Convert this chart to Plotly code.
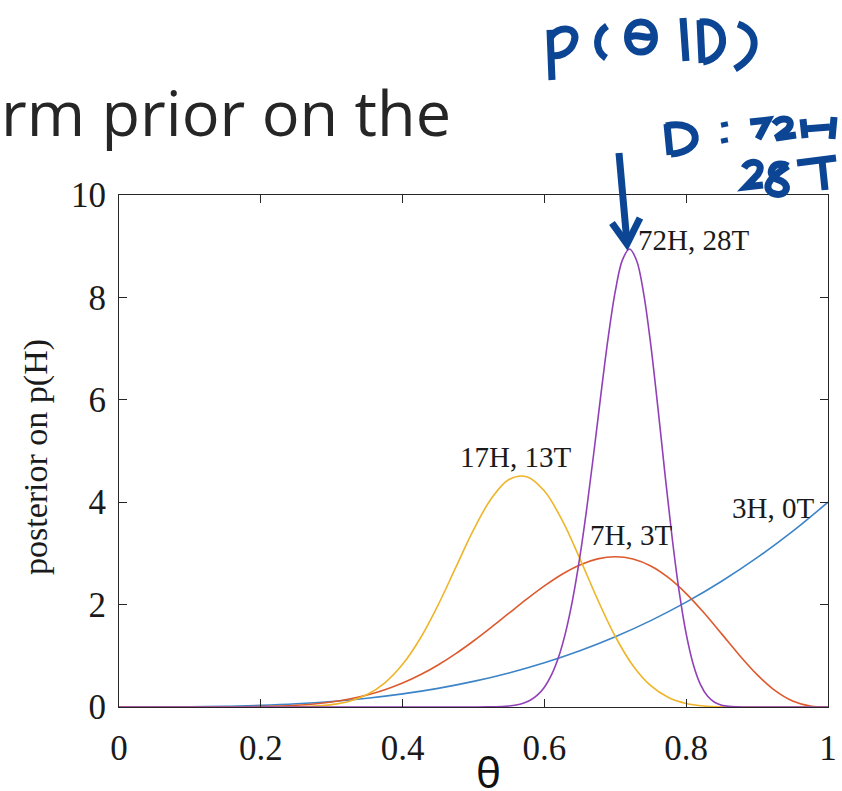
import plotly.graph_objects as go

# ---------------- data ----------------
theta_blue = [0.0, 0.05, 0.1, 0.15, 0.2, 0.25, 0.3, 0.35, 0.4, 0.45, 0.5,
              0.55, 0.6, 0.65, 0.7, 0.75, 0.8, 0.85, 0.9, 0.95, 1.0]
post_3h0t = [0.0, 0.0005, 0.004, 0.0135, 0.032, 0.0625, 0.108, 0.1715, 0.256, 0.3645, 0.5,
             0.6655, 0.864, 1.0985, 1.372, 1.6875, 2.048, 2.4565, 2.916, 3.4295, 4.0]

theta_orange = [0.0, 0.05, 0.1, 0.125, 0.15, 0.175, 0.2, 0.225, 0.25, 0.275, 0.3, 0.325,
                0.35, 0.375, 0.4, 0.425, 0.45, 0.475, 0.5, 0.525, 0.55, 0.575, 0.6, 0.625,
                0.65, 0.675, 0.7, 0.725, 0.75, 0.775, 0.8, 0.825, 0.85, 0.875, 0.9,
                0.925, 0.95, 0.975, 1.0]
post_7h3t = [0.0, 0.0, 0.0001, 0.0004, 0.0014, 0.0037, 0.0087, 0.0179, 0.034, 0.0598, 0.099, 0.1555,
             0.2332, 0.3361, 0.4671, 0.6285, 0.8206, 1.0421, 1.2891, 1.5551, 1.8312, 2.1058, 2.3649, 2.5932,
             2.7744, 2.893, 2.9351, 2.8903, 2.7531, 2.5249, 2.2146, 1.8403, 1.4282, 1.0124, 0.6314,
             0.3227, 0.1152, 0.0173, 0.0]

theta_yellow = [0.0, 0.1, 0.15, 0.2, 0.225, 0.25, 0.275, 0.3, 0.325, 0.35, 0.375, 0.4,
                0.425, 0.45, 0.475, 0.5, 0.525, 0.55, 0.575, 0.6, 0.625, 0.65, 0.675,
                0.7, 0.725, 0.75, 0.775, 0.8, 0.825, 0.85, 0.875, 0.9, 0.95, 1.0]
post_17h13t = [0.0, 0.0, 0.0, 0.0003, 0.0013, 0.0051, 0.0167, 0.0465, 0.1129, 0.2436, 0.4728, 0.833,
               1.3426, 1.9906, 2.7261, 3.4576, 4.0682, 4.4423, 4.4987, 4.2173, 3.6478, 2.8979, 2.1006,
               1.3769, 0.8067, 0.4159, 0.1846, 0.0685, 0.0204, 0.0046, 0.0007, 0.0001, 0.0, 0.0]

theta_purple = [0.0, 0.1, 0.2, 0.3, 0.4, 0.5, 0.52, 0.54, 0.55, 0.56, 0.57, 0.58, 0.59, 0.60,
                0.61, 0.62, 0.63, 0.64, 0.65, 0.66, 0.67, 0.68, 0.69, 0.70, 0.71, 0.72, 0.73,
                0.74, 0.75, 0.76, 0.77, 0.78, 0.79, 0.80, 0.81, 0.82, 0.83, 0.84, 0.85, 0.86,
                0.87, 0.88, 0.90, 0.95, 1.0]
post_72h28t = [0.0, 0.0, 0.0, 0.0, 0.0, 0.0004, 0.0021, 0.0098, 0.0199, 0.0389, 0.073, 0.1321, 0.2304, 0.387,
               0.6263, 0.9757, 1.4635, 2.1117, 2.9299, 3.9064, 4.9997, 6.1383, 7.2184, 8.1216, 8.7287, 8.9444, 8.722,
               8.0747, 7.0783, 5.8571, 4.5593, 3.3254, 2.262, 1.4272, 0.8303, 0.442, 0.2135, 0.0926, 0.0356, 0.012,
               0.0035, 0.0008, 0.0, 0.0, 0.0]

series_names = ["3H, 0T", "7H, 3T", "17H, 13T", "72H, 28T"]
series_colors = ["#3c84c8", "#dd5a2e", "#efb52a", "#9140b8"]
# label positions (theta, value) of the in-plot labels
label_x = [0.923, 0.722, 0.559, 0.810]
label_y = [3.89, 3.36, 4.88, 9.12]

x_ticks = [0, 0.2, 0.4, 0.6, 0.8, 1]
x_ticklabels = ["0", "0.2", "0.4", "0.6", "0.8", "1"]
y_ticks = [0, 2, 4, 6, 8, 10]
y_ticklabels = ["0", "2", "4", "6", "8", "10"]

# ---------------- figure ----------------
W, H = 842, 791
L, R, T, B = 119, 14, 195, 84
PW, PH = W - L - R, H - T - B


def px(x, y):
    return (x - L) / PW, (T + PH - y) / PH


def path_px(s):
    toks = s.split()
    out, nums = [], []
    for t in toks:
        if t.isalpha():
            out.append(t)
        else:
            nums.append(float(t))
            if len(nums) == 2:
                a, b = px(*nums)
                out.append(f"{a:.4f},{b:.4f}")
                nums = []
    return " ".join(out)


fig = go.Figure()
thetas = [theta_blue, theta_orange, theta_yellow, theta_purple]
posts = [post_3h0t, post_7h3t, post_17h13t, post_72h28t]
for th, p, nm, c in zip(thetas, posts, series_names, series_colors):
    fig.add_trace(go.Scatter(x=th, y=p, mode="lines", name=nm,
                             line=dict(color=c, width=1.6, shape="spline", smoothing=1.0),
                             showlegend=False, hoverinfo="skip"))

serif = "Liberation Serif, Times New Roman, serif"
for nm, lx, ly in zip(series_names, label_x, label_y):
    fig.add_annotation(x=lx, y=ly, xref="x", yref="y", text=nm, showarrow=False,
                       font=dict(family=serif, size=29, color="#1a1a1a"),
                       xanchor="center", yanchor="middle")

axis_common = dict(showline=True, linecolor="#262626", linewidth=1, mirror="ticks",
                   ticks="inside", ticklen=8, tickwidth=1, tickcolor="#262626",
                   showgrid=False, zeroline=False, automargin=False,
                   tickfont=dict(family=serif, size=35, color="#1a1a1a"))
fig.update_xaxes(range=[0, 1], tickvals=x_ticks, ticktext=x_ticklabels,
                 ticklabelstandoff=10, **axis_common)
fig.update_yaxes(range=[0, 10], tickvals=y_ticks, ticktext=y_ticklabels,
                 ticklabelstandoff=5, **axis_common)

# y-axis title
tx, ty = px(36, 457)
fig.add_annotation(x=tx, y=ty, xref="paper", yref="paper", text="posterior on p(H)",
                   textangle=-90, showarrow=False,
                   font=dict(family=serif, size=34, color="#1a1a1a"),
                   xanchor="center", yanchor="middle")

# slide text fragments
sx, sy = px(-1, 111)
fig.add_annotation(x=sx, y=sy, xref="paper", yref="paper", text="rm prior on the",
                   showarrow=False, font=dict(family="Open Sans, sans-serif", size=63, color="#262626"),
                   xanchor="left", yanchor="middle")
qx, qy = px(488, 771)
fig.add_annotation(x=qx, y=qy, xref="paper", yref="paper", text="θ",
                   showarrow=False, font=dict(family="Noto Sans, sans-serif", size=42, color="#111111"),
                   xanchor="center", yanchor="middle")

# handwritten ink strokes
ink = "#0b4593"
strokes = [
    "M 550 30 L 552 80",                                   # p stem
    "M 550 38 C 558 24 580 27 574 42 C 570 54 558 57 551 55",  # p bowl
    "M 607 26 C 595 34 594 50 606 58",                     # (
    "M 641 22 C 659 22 659 52 641 52 C 623 52 623 22 641 22",  # theta
    "M 630 37 C 638 33 646 40 653 36",                      # theta bar
    "M 683 18 L 686 61",                                    # |
    "M 700 20 L 702 63",                                    # D stem
    "M 700 22 C 727 18 732 56 703 62",                      # D bowl
    "M 738 24 C 760 32 760 54 735 69",                      # )
    "M 667 124 L 670 155",                                  # D stem
    "M 666 126 C 702 118 706 152 671 154",                  # D bowl
    "M 724 122 L 725 127",                                  # colon
    "M 724 138 L 725 143",
    "M 750 122 L 768 120 L 758 139",                        # 7
    "M 774 124 C 781 115 796 119 788 129 L 776 138 L 796 135",  # 2
    "M 803 119 L 805 138",                                  # H
    "M 804 129 L 830 127",
    "M 834 117 L 832 139",
    "M 744 168 C 750 158 766 162 758 174 L 746 187 L 763 185",  # 2
    "M 788 166 C 773 158 764 176 779 180 C 793 185 785 199 772 193 C 761 186 774 175 788 166",  # 8
    "M 797 163 L 836 158",                                  # T
    "M 822 160 L 825 190",
    "M 619 153 L 627 243",                                  # arrow shaft
    "M 612 223 L 627 244 L 640 218",                        # arrow head
]
for s in strokes:
    fig.add_shape(type="path", path=path_px(s), xref="paper", yref="paper",
                  line=dict(color=ink, width=7), layer="above")

fig.update_layout(width=W, height=H, autosize=False,
                  margin=dict(l=L, r=R, t=T, b=B),
                  paper_bgcolor="white", plot_bgcolor="white")

fig.write_html("out.html", config={"displayModeBar": False},
               post_script="document.body.style.margin='0';document.body.style.overflow='hidden';")
